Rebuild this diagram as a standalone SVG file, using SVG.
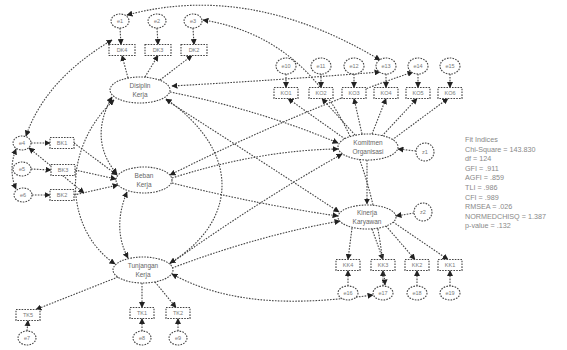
<svg xmlns="http://www.w3.org/2000/svg" width="567" height="350" viewBox="0 0 567 350">
<style>
.c{fill:none;stroke:#444;stroke-width:1.1;stroke-dasharray:1.6 1.3}
.n{fill:#fff;stroke:#444;stroke-width:1.1;stroke-dasharray:1.6 1.2}
.t{font-family:"Liberation Sans",Arial,sans-serif;font-size:6.5px;fill:#666;text-anchor:middle}
.s{font-family:"Liberation Sans",Arial,sans-serif;font-size:5.5px;fill:#777;text-anchor:middle}
.f{font-family:"Liberation Sans",Arial,sans-serif;font-size:7.2px;fill:#888}
</style>
<defs>
<marker id="a" viewBox="0 0 10 10" refX="9" refY="5" markerWidth="5.5" markerHeight="5.5" orient="auto-start-reverse"><path d="M0,0 L10,5 L0,10 z" fill="#222"/></marker>
</defs>
<rect width="567" height="350" fill="#fff"/>
<g id="connectors">
<path class="c" d="M128,78 L122,55.5" marker-end="url(#a)"/>
<path class="c" d="M145,77 L158,55.5" marker-end="url(#a)"/>
<path class="c" d="M160,80 L192,55.5" marker-end="url(#a)"/>
<path class="c" d="M120,28 L121,44.5" marker-end="url(#a)"/>
<path class="c" d="M157,28 L158,44.5" marker-end="url(#a)"/>
<path class="c" d="M193,28 L194,44.5" marker-end="url(#a)"/>
<path class="c" d="M74,143 L117,175" marker-end="url(#a)"/>
<path class="c" d="M75,170 L116,179" marker-end="url(#a)"/>
<path class="c" d="M74,195 L118,185" marker-end="url(#a)"/>
<path class="c" d="M31,143 L50,143" marker-end="url(#a)"/>
<path class="c" d="M31,169 L51,170" marker-end="url(#a)"/>
<path class="c" d="M32,195 L50,195" marker-end="url(#a)"/>
<path class="c" d="M118,277 L36,309.5" marker-end="url(#a)"/>
<path class="c" d="M142,283 L142,307.5" marker-end="url(#a)"/>
<path class="c" d="M155,282 L176,307.5" marker-end="url(#a)"/>
<path class="c" d="M27,331 L28,320.5" marker-end="url(#a)"/>
<path class="c" d="M142,331 L142,318.5" marker-end="url(#a)"/>
<path class="c" d="M178,331 L178,318.5" marker-end="url(#a)"/>
<path class="c" d="M345,139 L288,98.5" marker-end="url(#a)"/>
<path class="c" d="M355,135 L322,98.5" marker-end="url(#a)"/>
<path class="c" d="M362,134 L354,98.5" marker-end="url(#a)"/>
<path class="c" d="M372,134 L386,98.5" marker-end="url(#a)"/>
<path class="c" d="M382,136 L417,98.5" marker-end="url(#a)"/>
<path class="c" d="M392,140 L448,98.5" marker-end="url(#a)"/>
<path class="c" d="M286,74 L286,87.5" marker-end="url(#a)"/>
<path class="c" d="M321,74 L321,87.5" marker-end="url(#a)"/>
<path class="c" d="M354,74 L354,87.5" marker-end="url(#a)"/>
<path class="c" d="M386,74 L386,87.5" marker-end="url(#a)"/>
<path class="c" d="M418,74 L418,87.5" marker-end="url(#a)"/>
<path class="c" d="M450,74 L450,87.5" marker-end="url(#a)"/>
<path class="c" d="M352,228 L348,259.5" marker-end="url(#a)"/>
<path class="c" d="M372,229 L383,259.5" marker-end="url(#a)"/>
<path class="c" d="M386,226 L415,259.5" marker-end="url(#a)"/>
<path class="c" d="M393,222 L448,259.5" marker-end="url(#a)"/>
<path class="c" d="M348,286 L348,270.5" marker-end="url(#a)"/>
<path class="c" d="M383,286 L383,270.5" marker-end="url(#a)"/>
<path class="c" d="M417,286 L417,270.5" marker-end="url(#a)"/>
<path class="c" d="M450,286 L450,270.5" marker-end="url(#a)"/>
<path class="c" d="M170,92 Q260,110 338,143" marker-end="url(#a)"/>
<path class="c" d="M166,100 Q260,160 339,212" marker-end="url(#a)"/>
<path class="c" d="M172,178 Q260,150 338,149" marker-end="url(#a)"/>
<path class="c" d="M172,183 Q260,205 338,216" marker-end="url(#a)"/>
<path class="c" d="M170,264 Q260,200 342,154" marker-end="url(#a)"/>
<path class="c" d="M172,268 Q260,235 340,221" marker-end="url(#a)"/>
<path class="c" d="M367,160 L367,204" marker-end="url(#a)"/>
<path class="c" d="M416,151 L398,149" marker-end="url(#a)"/>
<path class="c" d="M414,213 L396,216" marker-end="url(#a)"/>
<path class="c" d="M112,97 Q88,140 117,174" marker-start="url(#a)" marker-end="url(#a)"/>
<path class="c" d="M114,100 C60,150 65,230 115,264" marker-start="url(#a)" marker-end="url(#a)"/>
<path class="c" d="M166,99 C240,150 240,220 170,263" marker-start="url(#a)" marker-end="url(#a)"/>
<path class="c" d="M127,192 Q112,228 128,258" marker-start="url(#a)" marker-end="url(#a)"/>
<path class="c" d="M127,15 Q250,-18 380,60" marker-start="url(#a)" marker-end="url(#a)"/>
<path class="c" d="M112,40 Q45,80 26,136" marker-start="url(#a)" marker-end="url(#a)"/>
<path class="c" d="M16,149 Q8,170 16,189" marker-start="url(#a)" marker-end="url(#a)"/>
<path class="c" d="M29,148 L84,193" marker-start="url(#a)" marker-end="url(#a)"/>
<path class="c" d="M172,274 C230,306 300,305 373,295" marker-start="url(#a)" marker-end="url(#a)"/>
<path class="c" d="M203,20 C330,40 375,160 385,285" marker-start="url(#a)" marker-end="url(#a)"/>
<path class="c" d="M172,86 Q280,80 380,72" marker-start="url(#a)" marker-end="url(#a)"/>
<path class="c" d="M170,175 Q300,110 413,72" marker-start="url(#a)" marker-end="url(#a)"/>
</g>
<g id="DK"><ellipse class="n" cx="140" cy="90" rx="30" ry="13"/><text class="t" x="140" y="88">Disiplin</text><text class="t" x="140" y="97">Kerja</text></g>
<g id="BK"><ellipse class="n" cx="144" cy="180" rx="28" ry="13"/><text class="t" x="144" y="178">Beban</text><text class="t" x="144" y="187">Kerja</text></g>
<g id="TK"><ellipse class="n" cx="143" cy="270" rx="30" ry="13"/><text class="t" x="143" y="268">Tunjangan</text><text class="t" x="143" y="277">Kerja</text></g>
<g id="KO"><ellipse class="n" cx="368" cy="147" rx="30" ry="13"/><text class="t" x="368" y="145">Komitmen</text><text class="t" x="368" y="154">Organisasi</text></g>
<g id="KK"><ellipse class="n" cx="367" cy="217" rx="29" ry="12"/><text class="t" x="367" y="215">Kinerja</text><text class="t" x="367" y="224">Karyawan</text></g>
<g id="z1"><circle class="n" cx="425" cy="152" r="9"/><text class="s" x="425" y="154">z1</text></g>
<g id="z2"><circle class="n" cx="423" cy="212" r="9"/><text class="s" x="423" y="214">z2</text></g>
<g id="ind-DK4"><rect class="n" x="109" y="44.5" width="26" height="11"/><text class="s" x="122" y="52">DK4</text></g>
<g id="ind-DK3"><rect class="n" x="145" y="44.5" width="26" height="11"/><text class="s" x="158" y="52">DK3</text></g>
<g id="ind-DK2"><rect class="n" x="181" y="44.5" width="26" height="11"/><text class="s" x="194" y="52">DK2</text></g>
<g id="e1"><ellipse class="n" cx="120" cy="21" rx="9" ry="7"/><text class="s" x="120" y="23">e1</text></g>
<g id="e2"><ellipse class="n" cx="157" cy="21" rx="9" ry="7"/><text class="s" x="157" y="23">e2</text></g>
<g id="e3"><ellipse class="n" cx="193" cy="21" rx="9" ry="7"/><text class="s" x="193" y="23">e3</text></g>
<g id="ind-BK1"><rect class="n" x="50" y="137.5" width="24" height="11"/><text class="s" x="62" y="145">BK1</text></g>
<g id="ind-BK3"><rect class="n" x="51" y="164.5" width="24" height="11"/><text class="s" x="63" y="172">BK3</text></g>
<g id="ind-BK2"><rect class="n" x="50" y="189.5" width="24" height="11"/><text class="s" x="62" y="197">BK2</text></g>
<g id="e4"><ellipse class="n" cx="22" cy="143" rx="9" ry="7"/><text class="s" x="22" y="145">e4</text></g>
<g id="e5"><ellipse class="n" cx="22" cy="169" rx="9" ry="7"/><text class="s" x="22" y="171">e5</text></g>
<g id="e6"><ellipse class="n" cx="23" cy="195" rx="9" ry="7"/><text class="s" x="23" y="197">e6</text></g>
<g id="ind-TK5"><rect class="n" x="16" y="309.5" width="24" height="11"/><text class="s" x="28" y="317">TK5</text></g>
<g id="ind-TK1"><rect class="n" x="130" y="307.5" width="24" height="11"/><text class="s" x="142" y="315">TK1</text></g>
<g id="ind-TK2"><rect class="n" x="166" y="307.5" width="24" height="11"/><text class="s" x="178" y="315">TK2</text></g>
<g id="e7"><ellipse class="n" cx="27" cy="338" rx="9" ry="7"/><text class="s" x="27" y="340">e7</text></g>
<g id="e8"><ellipse class="n" cx="142" cy="338" rx="9" ry="7"/><text class="s" x="142" y="340">e8</text></g>
<g id="e9"><ellipse class="n" cx="178" cy="338" rx="9" ry="7"/><text class="s" x="178" y="340">e9</text></g>
<g id="ind-KO1"><rect class="n" x="274" y="87.5" width="24" height="11"/><text class="s" x="286" y="95">KO1</text></g>
<g id="ind-KO2"><rect class="n" x="309" y="87.5" width="24" height="11"/><text class="s" x="321" y="95">KO2</text></g>
<g id="ind-KO3"><rect class="n" x="342" y="87.5" width="24" height="11"/><text class="s" x="354" y="95">KO3</text></g>
<g id="ind-KO4"><rect class="n" x="374" y="87.5" width="24" height="11"/><text class="s" x="386" y="95">KO4</text></g>
<g id="ind-KO5"><rect class="n" x="406" y="87.5" width="24" height="11"/><text class="s" x="418" y="95">KO5</text></g>
<g id="ind-KO6"><rect class="n" x="438" y="87.5" width="24" height="11"/><text class="s" x="450" y="95">KO6</text></g>
<g id="e10"><ellipse class="n" cx="286" cy="66" rx="10" ry="8"/><text class="s" x="286" y="68">e10</text></g>
<g id="e11"><ellipse class="n" cx="321" cy="66" rx="10" ry="8"/><text class="s" x="321" y="68">e11</text></g>
<g id="e12"><ellipse class="n" cx="354" cy="66" rx="10" ry="8"/><text class="s" x="354" y="68">e12</text></g>
<g id="e13"><ellipse class="n" cx="386" cy="66" rx="10" ry="8"/><text class="s" x="386" y="68">e13</text></g>
<g id="e14"><ellipse class="n" cx="418" cy="66" rx="10" ry="8"/><text class="s" x="418" y="68">e14</text></g>
<g id="e15"><ellipse class="n" cx="450" cy="66" rx="10" ry="8"/><text class="s" x="450" y="68">e15</text></g>
<g id="ind-KK4"><rect class="n" x="336" y="259.5" width="24" height="11"/><text class="s" x="348" y="267">KK4</text></g>
<g id="ind-KK3"><rect class="n" x="371" y="259.5" width="24" height="11"/><text class="s" x="383" y="267">KK3</text></g>
<g id="ind-KK2"><rect class="n" x="405" y="259.5" width="24" height="11"/><text class="s" x="417" y="267">KK2</text></g>
<g id="ind-KK1"><rect class="n" x="438" y="259.5" width="24" height="11"/><text class="s" x="450" y="267">KK1</text></g>
<g id="e16"><ellipse class="n" cx="348" cy="293" rx="10" ry="7"/><text class="s" x="348" y="295">e16</text></g>
<g id="e17"><ellipse class="n" cx="383" cy="293" rx="10" ry="7"/><text class="s" x="383" y="295">e17</text></g>
<g id="e18"><ellipse class="n" cx="417" cy="293" rx="10" ry="7"/><text class="s" x="417" y="295">e18</text></g>
<g id="e19"><ellipse class="n" cx="450" cy="293" rx="10" ry="7"/><text class="s" x="450" y="295">e19</text></g>
<g id="fit">
<text class="f" x="465" y="142">Fit Indices</text>
<text class="f" x="465" y="151.6">Chi-Square = 143.830</text>
<text class="f" x="465" y="161.2">df = 124</text>
<text class="f" x="465" y="170.8">GFI = .911</text>
<text class="f" x="465" y="180.4">AGFI = .859</text>
<text class="f" x="465" y="190">TLI = .986</text>
<text class="f" x="465" y="199.6">CFI = .989</text>
<text class="f" x="465" y="209.2">RMSEA = .026</text>
<text class="f" x="465" y="218.8">NORMEDCHISQ = 1.387</text>
<text class="f" x="465" y="228.4">p-value = .132</text>
</g>
</svg>
